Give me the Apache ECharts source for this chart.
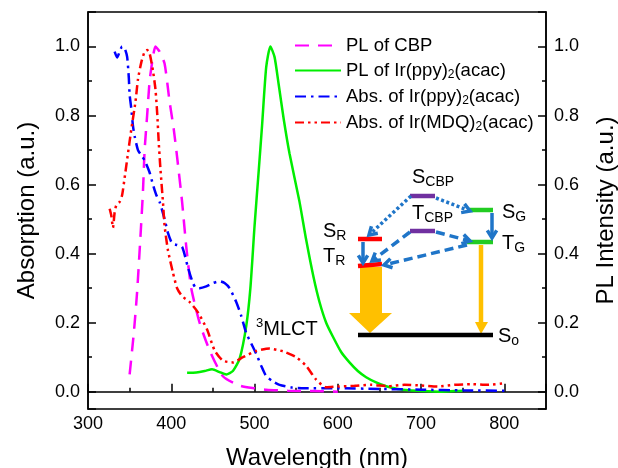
<!DOCTYPE html>
<html>
<head>
<meta charset="utf-8">
<script src="https://cdn.jsdelivr.net/npm/echarts@6/dist/echarts.min.js"></script>
<style>
  html, body {margin: 0; padding: 0; background: #fff;}
  #chart {width: 618px; height: 468px;}
</style>
</head>
<body>
<div id="chart"></div>
<script>
// PL of CBP
let cbpWl = [350, 355, 359, 363, 366, 368, 371, 374, 378, 381, 386, 392, 398, 403, 407, 413, 418, 424, 434, 446, 462, 482, 500, 514, 540, 570, 600]
let cbpPl = [0.05, 0.17, 0.29, 0.45, 0.58, 0.70, 0.80, 0.90, 0.97, 1.0, 0.985, 0.95, 0.84, 0.76, 0.68, 0.55, 0.42, 0.30, 0.20, 0.12, 0.045, 0.018, 0.01, 0.006, 0.003, 0.002, 0.0]

// PL of Ir(ppy)2(acac)
let ppyPlWl = [419, 430, 440, 449, 458, 466, 474, 482, 490, 495, 500, 505, 509, 514, 519, 524, 529, 535, 542, 554, 562, 571, 578, 586, 594, 604, 614, 624, 634, 646, 658, 672, 686, 700, 722, 740, 750]
let ppyPl = [0.055, 0.056, 0.06, 0.065, 0.057, 0.05, 0.06, 0.095, 0.19, 0.30, 0.48, 0.64, 0.77, 0.94, 1.0, 0.97, 0.89, 0.79, 0.69, 0.55, 0.44, 0.33, 0.26, 0.20, 0.16, 0.115, 0.085, 0.06, 0.042, 0.027, 0.016, 0.008, 0.004, 0.002, 0.0, 0.002, 0.003]

// Abs. of Ir(ppy)2(acac)
let ppyAbsWl = [332, 335, 338, 341, 344, 347, 349, 350, 352, 354, 356, 360, 364, 368, 374, 378, 382, 386, 392, 396, 401, 407, 413, 420, 426, 430, 434, 442, 450, 458, 464, 470, 478, 484, 490, 496, 502, 508, 514, 522, 530, 545, 560, 600, 650, 700, 750, 800]
let ppyAbs = [0.985, 0.968, 0.985, 1.0, 0.995, 0.97, 0.91, 0.86, 0.82, 0.77, 0.74, 0.70, 0.685, 0.67, 0.635, 0.60, 0.57, 0.55, 0.50, 0.46, 0.43, 0.425, 0.42, 0.36, 0.315, 0.30, 0.30, 0.305, 0.315, 0.32, 0.315, 0.30, 0.26, 0.22, 0.17, 0.14, 0.11, 0.075, 0.045, 0.03, 0.02, 0.012, 0.01, 0.01, 0.008, 0.006, 0.004, 0.003]

// Abs. of Ir(MDQ)2(acac)
let mdqAbsWl = [326, 328, 330, 332, 334, 338, 341, 344, 348, 352, 357, 360, 364, 368, 371, 374, 378, 381, 383, 385, 387, 390, 392, 396, 402, 407, 413, 422, 432, 443, 452, 462, 474, 486, 502, 518, 534, 550, 562, 574, 586, 600, 620, 640, 660, 680, 700, 720, 740, 760, 780, 800]
let mdqAbs = [0.53, 0.51, 0.475, 0.52, 0.54, 0.55, 0.57, 0.62, 0.69, 0.76, 0.84, 0.905, 0.954, 0.985, 0.99, 0.98, 0.93, 0.876, 0.81, 0.72, 0.645, 0.55, 0.48, 0.41, 0.345, 0.30, 0.277, 0.26, 0.23, 0.18, 0.12, 0.09, 0.085, 0.10, 0.118, 0.125, 0.117, 0.10, 0.075, 0.035, 0.013, 0.015, 0.017, 0.02, 0.016, 0.02, 0.018, 0.015, 0.02, 0.022, 0.02, 0.025]

let seriesNames = ['PL of CBP', 'PL of Ir(ppy)2(acac)', 'Abs. of Ir(ppy)2(acac)', 'Abs. of Ir(MDQ)2(acac)']
let xTicks = [300, 400, 500, 600, 700, 800]
let yTicks = ['0.0', '0.2', '0.4', '0.6', '0.8', '1.0']

let font = 'Liberation Sans'
let arrowBlue = '#1f75c8'
let orange = '#ffc000'

function pairs(xs, ys) {
    return xs.map((x, i) => [x, ys[i]])
}

function lineSeries(idx, xs, ys, yAxisIndex, color, dash) {
    return {
        name: seriesNames[idx],
        type: 'line',
        yAxisIndex: yAxisIndex,
        data: pairs(xs, ys),
        symbol: 'none',
        smooth: 0.2,
        color: color,
        lineStyle: {color: color, width: 2.5, type: dash},
    }
}

function yAxis(position, title) {
    return {
        type: 'value',
        position: position,
        min: -0.05,
        max: 1.1,
        name: title,
        nameLocation: 'middle',
        nameRotate: 90,
        nameGap: position === 'left' ? 49 : 48,
        nameTextStyle: {fontSize: 24, color: '#000', fontFamily: font},
        axisLine: {show: true, lineStyle: {color: '#000', width: 1.5}},
        axisTick: {show: true, inside: true, length: 8, lineStyle: {color: '#000', width: 1.5}},
        minorTick: {show: true, splitNumber: 2, length: 4, lineStyle: {color: '#000', width: 1.5}},
        splitLine: {show: false},
        axisLabel: {
            fontSize: 18, color: '#000', fontFamily: font, margin: 8,
            formatter: v => {
                let s = v.toFixed(1)
                return yTicks.includes(s) && Math.abs(v - parseFloat(s)) < 1e-6 ? s : ''
            }
        },
    }
}

// ---- energy level diagram (annotation, pixel positions) ----
function level(x1, y1, x2, y2, color) {
    return {type: 'line', shape: {x1, y1, x2, y2}, style: {stroke: color, lineWidth: 4.5}}
}

function arrow(x1, y1, x2, y2, dash) {
    let a = Math.atan2(y2 - y1, x2 - x1), L = 9, s = 0.55
    let head = [
        [x2 - L * Math.cos(a - s), y2 - L * Math.sin(a - s)],
        [x2, y2],
        [x2 - L * Math.cos(a + s), y2 - L * Math.sin(a + s)],
    ]
    return [
        {type: 'line', shape: {x1, y1, x2, y2}, style: {stroke: arrowBlue, lineWidth: 3.5, lineDash: dash}},
        {type: 'polyline', shape: {points: head}, style: {stroke: arrowBlue, lineWidth: 3.5, fill: null}},
    ]
}

let richLabel = {
    m: {fontSize: 20, fontFamily: font, fill: '#000'},
    sub: {fontSize: 14, fontFamily: font, fill: '#000', padding: [10, 0, 0, 0]},
    sup: {fontSize: 13, fontFamily: font, fill: '#000', padding: [0, 0, 12, 0]},
}

function label(x, y, text) {
    return {type: 'text', x: x, y: y, style: {text: text, rich: richLabel, verticalAlign: 'middle', align: 'left'}}
}

let dotted = [3, 2.5]
let dashed = [9, 5]

let diagram = [
    // orange emission arrows
    {type: 'polygon', shape: {points: [[360, 267], [382, 267], [382, 313], [392, 313], [370, 333], [349, 313], [360, 313]]}, style: {fill: orange}},
    {type: 'line', shape: {x1: 481, y1: 245, x2: 481, y2: 323}, style: {stroke: orange, lineWidth: 4.5}},
    {type: 'polygon', shape: {points: [[475, 322], [488, 322], [481, 334]]}, style: {fill: orange}},
    // levels
    level(358, 335, 493, 335, '#000'),
    level(410, 196, 435, 196, '#7030a0'),
    level(410, 231, 435, 231, '#7030a0'),
    level(468, 210, 493, 210, '#22cc22'),
    level(467, 242, 493, 242, '#22cc22'),
    level(358, 239, 382, 239, '#ff0000'),
    level(358, 266, 382, 264, '#ff0000'),
    ...arrow(411, 196, 369, 235, dotted),
    ...arrow(436, 198, 470, 211, dotted),
    ...arrow(492, 213, 492, 238, null),
    ...arrow(363, 242, 363, 263, null),
    ...arrow(410, 232, 372, 261, dashed),
    ...arrow(436, 232, 470, 241, dashed),
    ...arrow(467, 245, 384, 265, dashed),
    label(412, 177, '{m|S}{sub|CBP}'),
    label(412, 213, '{m|T}{sub|CBP}'),
    label(323, 231, '{m|S}{sub|R}'),
    label(323, 256, '{m|T}{sub|R}'),
    label(502, 212, '{m|S}{sub|G}'),
    label(502, 243, '{m|T}{sub|G}'),
    label(498, 336, '{m|S}{sub|o}'),
    label(256, 329, '{sup|3}{m|MLCT}'),
]

let chart = echarts.init(document.getElementById('chart'))
chart.setOption({
    animation: false,
    backgroundColor: '#fff',
    textStyle: {fontFamily: font},
    grid: {
        left: 88, right: 72, top: 12, bottom: 59,
        outerBoundsMode: 'none', containLabel: false,
        show: true, borderColor: '#000', borderWidth: 1.5,
    },
    legend: {
        orient: 'vertical',
        left: 289,
        top: 31,
        itemWidth: 46,
        itemHeight: 14,
        itemGap: 6,
        data: seriesNames,
        itemStyle: {opacity: 0},
        textStyle: {
            fontSize: 18.5, color: '#000', fontFamily: font,
            rich: {sub: {fontSize: 12, fontFamily: font, color: '#000', padding: [9, 0, 0, 0]}},
        },
        formatter: name => name.replace(')2(', '){sub|2}('),
    },
    xAxis: {
        type: 'value',
        min: 300,
        max: 850,
        interval: 100,
        name: 'Wavelength (nm)',
        nameLocation: 'middle',
        nameGap: 37,
        nameTextStyle: {fontSize: 24, color: '#000', fontFamily: font},
        axisLine: {show: true, lineStyle: {color: '#000', width: 1.5}},
        axisTick: {show: true, inside: true, length: 8, lineStyle: {color: '#000', width: 1.5}},
        minorTick: {show: true, splitNumber: 2, length: 4, lineStyle: {color: '#000', width: 1.5}},
        splitLine: {show: false},
        axisLabel: {
            fontSize: 18, color: '#000', fontFamily: font, margin: 6,
            formatter: v => xTicks.includes(v) ? String(v) : '',
        },
    },
    yAxis: [yAxis('left', 'Absorption (a.u.)'), yAxis('right', 'PL Intensity (a.u.)')],
    series: [
        lineSeries(0, cbpWl, cbpPl, 1, '#ff00ff', [14, 9]),
        lineSeries(1, ppyPlWl, ppyPl, 1, '#00ee00', 'solid'),
        lineSeries(2, ppyAbsWl, ppyAbs, 0, '#0000ff', [11, 5, 2.5, 5]),
        lineSeries(3, mdqAbsWl, mdqAbs, 0, '#ff0000', [9, 4, 2.5, 4, 2.5, 4]),
    ],
    graphic: {elements: diagram},
})
</script>
</body>
</html>
